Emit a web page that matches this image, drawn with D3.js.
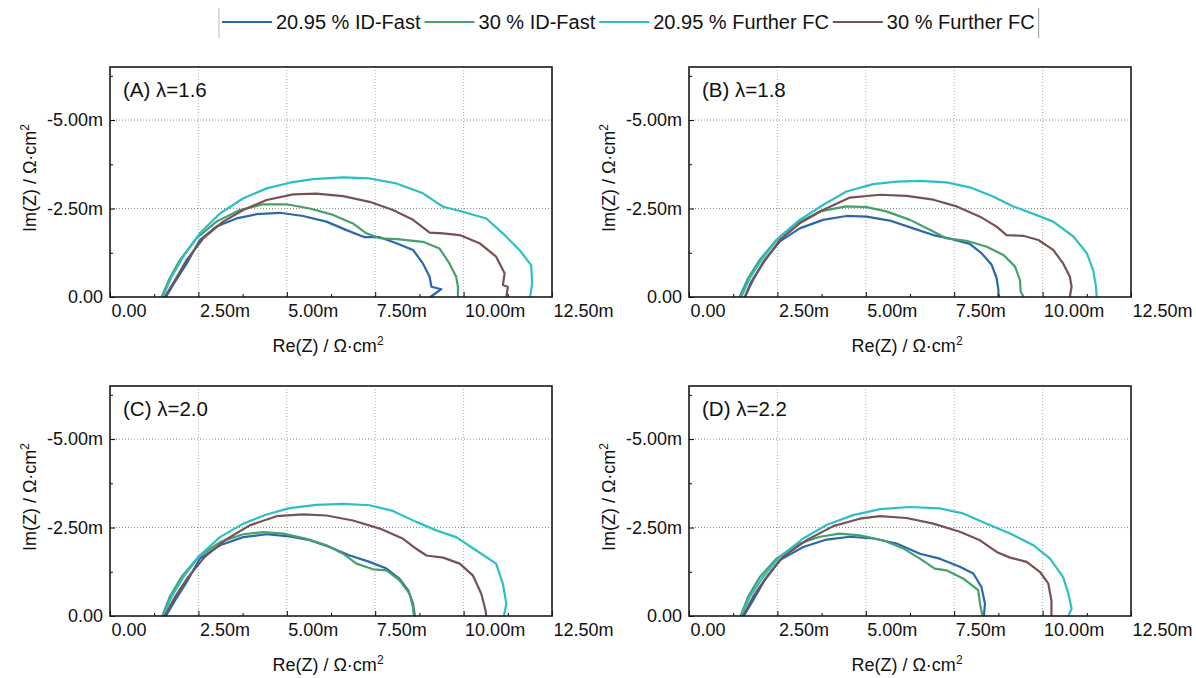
<!DOCTYPE html>
<html>
<head>
<meta charset="utf-8">
<script src="https://cdn.jsdelivr.net/npm/d3@7"></script>
<style>
  body { margin: 0; background: #fff; }
  text { font-family: "Liberation Sans", Arial, sans-serif; fill: #111; }
</style>
</head>
<body>
<div id="chart"></div>
<script>
// legend / series
const seriesNames = ["20.95 % ID-Fast", "30 % ID-Fast", "20.95 % Further FC", "30 % Further FC"];
const seriesColors = ["#2a67ad", "#45a06b", "#2cbfc6", "#785252"];
const panelLabels = ["(A) λ=1.6", "(B) λ=1.8", "(C) λ=2.0", "(D) λ=2.2"];

// axis ticks (mΩ·cm²)
const xTicks = [0, 2.5, 5, 7.5, 10, 12.5];
const xMinor = [1.25, 3.75, 6.25, 8.75, 11.25];
const yTicks = [0, -2.5, -5];
const yMinor = [-1.25, -3.75, -6.25];

// Nyquist data [Re(Z), Im(Z)] in mΩ·cm²
// (A) lambda = 1.6
const A_id2095 = [[1.58,0],[1.84,-0.43],[2.17,-0.95],[2.54,-1.61],[3.01,-1.99],[3.58,-2.22],[4.14,-2.34],[4.80,-2.38],[5.46,-2.29],[6.12,-2.13],[6.69,-1.89],[7.20,-1.69],[7.63,-1.69],[8.10,-1.52],[8.57,-1.33],[8.85,-0.95],[9.04,-0.57],[9.09,-0.29],[9.37,-0.22],[9.06,0]];
const A_id30 = [[1.46,0],[1.69,-0.53],[1.98,-1.05],[2.45,-1.66],[3.01,-2.13],[3.67,-2.46],[4.33,-2.62],[4.99,-2.62],[5.65,-2.50],[6.31,-2.32],[6.87,-2.08],[7.25,-1.80],[7.63,-1.66],[8.19,-1.63],[8.85,-1.56],[9.32,-1.37],[9.60,-0.95],[9.79,-0.57],[9.84,-0.29],[9.84,0]];
const A_ffc2095 = [[1.49,0],[1.74,-0.57],[2.07,-1.14],[2.54,-1.80],[3.11,-2.36],[3.77,-2.79],[4.43,-3.07],[5.08,-3.23],[5.74,-3.33],[6.59,-3.38],[7.34,-3.35],[8.10,-3.21],[8.85,-2.93],[9.42,-2.55],[9.98,-2.41],[10.64,-2.22],[11.11,-1.80],[11.58,-1.33],[11.91,-0.90],[11.94,-0.39],[11.88,0]];
const A_ffc30 = [[1.55,0],[1.84,-0.48],[2.17,-1.05],[2.64,-1.66],[3.20,-2.13],[3.77,-2.46],[4.43,-2.74],[5.18,-2.90],[5.84,-2.92],[6.59,-2.85],[7.34,-2.69],[8.00,-2.46],[8.57,-2.18],[9.04,-1.82],[9.42,-1.80],[9.89,-1.75],[10.45,-1.52],[10.92,-1.14],[11.16,-0.67],[11.11,-0.34],[11.25,-0.29],[11.21,0]];
// (B) lambda = 1.8
const B_id2095 = [[1.58,0],[1.81,-0.48],[2.14,-1.05],[2.57,-1.57],[3.13,-1.94],[3.79,-2.18],[4.45,-2.29],[5.02,-2.27],[5.68,-2.16],[6.34,-1.94],[6.91,-1.75],[7.47,-1.63],[7.94,-1.50],[8.27,-1.24],[8.56,-0.91],[8.70,-0.53],[8.75,-0.20],[8.75,0]];
const B_id30 = [[1.43,0],[1.67,-0.53],[2.00,-1.05],[2.47,-1.61],[3.04,-2.08],[3.70,-2.42],[4.45,-2.56],[5.02,-2.54],[5.58,-2.42],[6.25,-2.18],[6.81,-1.90],[7.28,-1.66],[7.85,-1.59],[8.42,-1.42],[8.89,-1.19],[9.22,-0.86],[9.36,-0.48],[9.38,-0.15],[9.47,0]];
const B_ffc2095 = [[1.48,0],[1.72,-0.53],[2.05,-1.05],[2.52,-1.66],[3.13,-2.18],[3.79,-2.60],[4.45,-2.98],[5.21,-3.19],[5.87,-3.26],[6.53,-3.28],[7.28,-3.24],[7.94,-3.10],[8.60,-2.84],[9.17,-2.56],[9.74,-2.35],[10.30,-2.13],[10.87,-1.71],[11.25,-1.24],[11.43,-0.76],[11.51,-0.29],[11.53,0]];
const B_ffc30 = [[1.58,0],[1.76,-0.43],[2.09,-0.95],[2.57,-1.61],[3.13,-2.08],[3.79,-2.46],[4.55,-2.81],[5.40,-2.89],[6.15,-2.86],[6.91,-2.75],[7.57,-2.56],[8.23,-2.27],[8.70,-1.99],[8.98,-1.75],[9.45,-1.73],[9.88,-1.61],[10.30,-1.33],[10.58,-0.95],[10.77,-0.58],[10.82,-0.29],[10.77,0]];
// (C) lambda = 2.0
const C_id2095 = [[1.58,0],[1.84,-0.44],[2.17,-0.96],[2.54,-1.62],[3.11,-2.00],[3.77,-2.23],[4.43,-2.31],[4.99,-2.26],[5.65,-2.14],[6.21,-1.95],[6.78,-1.71],[7.34,-1.53],[7.82,-1.34],[8.19,-1.05],[8.43,-0.73],[8.57,-0.35],[8.62,0]];
const C_id30 = [[1.48,0],[1.69,-0.54],[2.02,-1.10],[2.50,-1.67],[3.11,-2.09],[3.77,-2.31],[4.33,-2.37],[4.90,-2.33],[5.56,-2.18],[6.12,-2.00],[6.59,-1.76],[6.97,-1.48],[7.44,-1.32],[7.82,-1.29],[8.19,-1.01],[8.47,-0.63],[8.57,-0.25],[8.59,0]];
const C_ffc2095 = [[1.51,0],[1.74,-0.54],[2.07,-1.10],[2.54,-1.71],[3.11,-2.23],[3.77,-2.61],[4.43,-2.87],[5.08,-3.05],[5.84,-3.14],[6.59,-3.17],[7.34,-3.13],[8.00,-2.97],[8.66,-2.66],[9.23,-2.42],[9.79,-2.23],[10.36,-1.85],[10.92,-1.48],[11.11,-0.91],[11.21,-0.35],[11.14,0]];
const C_ffc30 = [[1.55,0],[1.84,-0.54],[2.21,-1.10],[2.68,-1.67],[3.25,-2.14],[3.95,-2.56],[4.71,-2.82],[5.46,-2.87],[6.12,-2.84],[6.87,-2.70],[7.63,-2.47],[8.29,-2.18],[8.66,-1.90],[8.95,-1.71],[9.42,-1.65],[9.89,-1.48],[10.26,-1.15],[10.50,-0.63],[10.62,-0.16],[10.64,0]];
// (D) lambda = 2.2
const D_id2095 = [[1.55,0],[1.81,-0.44],[2.14,-1.01],[2.57,-1.58],[3.23,-1.95],[3.89,-2.16],[4.55,-2.24],[5.21,-2.19],[5.87,-2.05],[6.53,-1.76],[7.09,-1.62],[7.66,-1.39],[8.04,-1.20],[8.27,-0.82],[8.37,-0.35],[8.34,0]];
const D_id30 = [[1.46,0],[1.67,-0.54],[2.00,-1.10],[2.47,-1.62],[3.13,-2.05],[3.70,-2.24],[4.26,-2.33],[4.83,-2.28],[5.49,-2.14],[6.06,-1.91],[6.53,-1.62],[6.95,-1.34],[7.28,-1.29],[7.75,-1.06],[8.18,-0.73],[8.23,-0.35],[8.30,0]];
const D_ffc2095 = [[1.48,0],[1.72,-0.54],[2.09,-1.10],[2.57,-1.67],[3.23,-2.19],[3.89,-2.57],[4.64,-2.85],[5.40,-3.02],[6.25,-3.08],[7.09,-3.04],[7.75,-2.90],[8.42,-2.61],[9.08,-2.33],[9.74,-2.00],[10.21,-1.62],[10.58,-1.10],[10.73,-0.63],[10.82,-0.21],[10.73,0]];
const D_ffc30 = [[1.53,0],[1.81,-0.54],[2.19,-1.10],[2.66,-1.67],[3.32,-2.14],[4.08,-2.54],[4.83,-2.75],[5.40,-2.82],[6.15,-2.77],[6.91,-2.61],[7.66,-2.38],[8.23,-2.14],[8.70,-1.81],[9.08,-1.65],[9.55,-1.53],[9.92,-1.25],[10.16,-0.92],[10.25,-0.44],[10.25,0]];

const panelData = [
  [A_id2095, A_id30, A_ffc2095, A_ffc30],
  [B_id2095, B_id30, B_ffc2095, B_ffc30],
  [C_id2095, C_id30, C_ffc2095, C_ffc30],
  [D_id2095, D_id30, D_ffc2095, D_ffc30]
];

const W = 1196, H = 678;
const pw = 442, ph = 230;
const origins = [[110, 67], [689, 67], [110, 386], [689, 386]];

const svg = d3.select("#chart").append("svg")
  .attr("width", W).attr("height", H);

const x = d3.scaleLinear().domain([0, 12.5]).range([0, pw]);
const y = d3.scaleLinear().domain([0, -6.5]).range([ph, 0]);
const fmt = d => d === 0 ? "0.00" : d.toFixed(2) + "m";

const line = d3.line().x(d => x(d[0])).y(d => y(d[1]));

panelData.forEach((series, i) => {
  const g = svg.append("g")
    .attr("transform", `translate(${origins[i][0]},${origins[i][1]})`);

  // dotted grid
  g.selectAll(".gx").data(xTicks.filter(t => t > 0 && t < 12.5)).join("line")
    .attr("x1", d => x(d)).attr("x2", d => x(d))
    .attr("y1", 0).attr("y2", ph)
    .attr("stroke", "#aaa").attr("stroke-dasharray", "1,2");
  g.selectAll(".gy").data(yTicks.filter(t => t < 0)).join("line")
    .attr("x1", 0).attr("x2", pw)
    .attr("y1", d => y(d)).attr("y2", d => y(d))
    .attr("stroke", "#888").attr("stroke-dasharray", "1,2");

  // curves
  series.forEach((s, k) => {
    g.append("path").datum(s)
      .attr("d", line)
      .attr("fill", "none")
      .attr("stroke", seriesColors[k])
      .attr("stroke-width", 2.2)
      .attr("stroke-linejoin", "round");
  });

  // x axis
  const xa = g.append("g").attr("transform", `translate(0,${ph})`)
    .call(d3.axisBottom(x).tickValues(xTicks).tickSize(-5).tickPadding(7).tickFormat(fmt));
  xa.select(".domain").remove();
  xa.selectAll("text").attr("text-anchor", "start").attr("dx", 1)
    .style("font-size", "18px").style("font-family", '"Liberation Sans", Arial, sans-serif');
  const xm = g.append("g").attr("transform", `translate(0,${ph})`)
    .call(d3.axisBottom(x).tickValues(xMinor).tickSize(-3).tickFormat(""));
  xm.select(".domain").remove();

  // y axis
  const ya = g.append("g")
    .call(d3.axisLeft(y).tickValues(yTicks).tickSize(-5).tickPadding(7).tickFormat(fmt));
  ya.select(".domain").remove();
  ya.selectAll("text")
    .style("font-size", "18px").style("font-family", '"Liberation Sans", Arial, sans-serif');
  const ym = g.append("g")
    .call(d3.axisLeft(y).tickValues(yMinor).tickSize(-3).tickFormat(""));
  ym.select(".domain").remove();

  // frame
  g.append("rect").attr("width", pw).attr("height", ph)
    .attr("fill", "none").attr("stroke", "#1a1a1a").attr("stroke-width", 1.6);

  // panel label
  g.append("text").attr("x", 13).attr("y", 30)
    .style("font-size", "20.5px").text(panelLabels[i]);

  // axis titles
  const xt = g.append("text").attr("x", pw / 2 - 3).attr("y", ph + 55)
    .attr("text-anchor", "middle").style("font-size", "18px");
  xt.append("tspan").text("Re(Z) / Ω·cm");
  xt.append("tspan").attr("dy", -7).style("font-size", "12px").text("2");

  const yt = g.append("text")
    .attr("transform", `translate(-74,${ph / 2 - 4}) rotate(-90)`)
    .attr("text-anchor", "middle").style("font-size", "18px");
  yt.append("tspan").text("Im(Z) / Ω·cm");
  yt.append("tspan").attr("dy", -7).style("font-size", "12px").text("2");
});

// legend
const lg = svg.append("g").attr("transform", "translate(0,22)");
let cx = 222;
seriesNames.forEach((name, k) => {
  lg.append("line").attr("x1", cx).attr("x2", cx + 50)
    .attr("y1", 0).attr("y2", 0)
    .attr("stroke", seriesColors[k]).attr("stroke-width", 2);
  const t = lg.append("text").attr("x", cx + 54).attr("y", 7)
    .style("font-size", "20px").text(name);
  cx += 54 + t.node().getComputedTextLength() + 4;
});
lg.append("line").attr("x1", 219).attr("x2", 219).attr("y1", -14).attr("y2", 16)
  .attr("stroke", "#bbb");
lg.append("line").attr("x1", cx).attr("x2", cx).attr("y1", -14).attr("y2", 16)
  .attr("stroke", "#999");
</script>
</body>
</html>
